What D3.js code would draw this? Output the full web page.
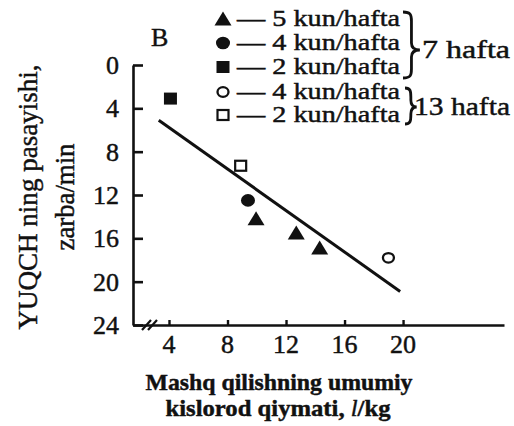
<!DOCTYPE html>
<html>
<head>
<meta charset="utf-8">
<script src="https://cdn.jsdelivr.net/npm/d3@7"></script>
<style>
  html, body { margin: 0; padding: 0; background: #fff; }
  svg { display: block; }
</style>
</head>
<body>
<script>
// Training groups: total oxygen volume of exercise (l/kg) vs. drop in resting heart rate (beats/min)
const xTicks = [4, 8, 12, 16, 20];
const yTicks = [0, 4, 8, 12, 16, 20, 24];

// 7 weeks of training
const fiveDays7 = [[9.95, 14.2], [12.7, 15.5], [14.3, 16.9]];
const fourDays7 = [[9.4, 12.5]];
const twoDays7 = [[4.1, 3.1]];
// 13 weeks of training
const fourDays13 = [[19.0, 17.8]];
const twoDays13 = [[8.9, 9.3]];

// regression line end points
const trendLine = [[3.3, 5.1], [19.8, 20.9]];

const legendLabels = ["— 5 kun/hafta", "— 4 kun/hafta", "— 2 kun/hafta", "— 4 kun/hafta", "— 2 kun/hafta"];
const groupLabels = ["7 hafta", "13 hafta"];

const W = 514, H = 426;
const FONT = "'Liberation Serif', 'Times New Roman', Times, serif";
const ink = "#111";

const svg = d3.select("body").append("svg")
  .attr("width", W).attr("height", H)
  .attr("font-family", FONT);

// heavier type, like the printed figure
function txt(sel) {
  return sel.attr("font-family", FONT).attr("fill", ink)
    .attr("stroke", ink).attr("stroke-width", 0.45);
}

const x = d3.scaleLinear().domain([1.54, 26.9]).range([133, 504]);
const y = d3.scaleLinear().domain([0, 24]).range([65, 325]);

// Y axis (ticks point inward)
const yAxis = svg.append("g").attr("transform", `translate(${x.range()[0]},0)`)
  .call(d3.axisRight(y).tickValues(yTicks).tickSize(10).tickSizeOuter(0).tickFormat(""));
yAxis.select(".domain").attr("stroke", ink).attr("stroke-width", 2.6);
yAxis.selectAll(".tick line").attr("stroke", ink).attr("stroke-width", 2.6);

txt(svg.append("g").selectAll("text").data(yTicks).join("text"))
  .attr("x", 119).attr("y", d => y(d) + 9)
  .attr("text-anchor", "end").attr("font-size", 26)
  .text(d => d);

// X axis (ticks point inward)
const xAxis = svg.append("g").attr("transform", `translate(0,${y.range()[1]})`)
  .call(d3.axisTop(x).tickValues(xTicks).tickSize(5).tickSizeOuter(0).tickFormat(""));
xAxis.select(".domain").attr("stroke", ink).attr("stroke-width", 2.6);
xAxis.selectAll(".tick line").attr("stroke", ink).attr("stroke-width", 2.4);

txt(svg.append("g").selectAll("text").data(xTicks).join("text"))
  .attr("x", d => x(d)).attr("y", 353)
  .attr("text-anchor", "middle").attr("font-size", 26)
  .text(d => d);

// axis break marks
svg.append("g").selectAll("line").data([0, 6]).join("line")
  .attr("x1", d => 142 + d).attr("y1", 330)
  .attr("x2", d => 151 + d).attr("y2", 320)
  .attr("stroke", ink).attr("stroke-width", 2.2);

// regression line
svg.append("line")
  .attr("x1", x(trendLine[0][0])).attr("y1", y(trendLine[0][1]))
  .attr("x2", x(trendLine[1][0])).attr("y2", y(trendLine[1][1]))
  .attr("stroke", ink).attr("stroke-width", 3);

// marker shapes
function triangle(g, cx, cy) {
  g.append("path").attr("d", `M${cx},${cy - 7.5}L${cx + 8.5},${cy + 6.5}L${cx - 8.5},${cy + 6.5}Z`).attr("fill", ink);
}
function dot(g, cx, cy, filled) {
  if (filled) g.append("ellipse").attr("cx", cx).attr("cy", cy).attr("rx", 7).attr("ry", 6.3).attr("fill", ink);
  else g.append("ellipse").attr("cx", cx).attr("cy", cy).attr("rx", 5.5).attr("ry", 4.8)
        .attr("fill", "#fff").attr("stroke", ink).attr("stroke-width", 2.3);
}
function square(g, cx, cy, filled) {
  if (filled) g.append("rect").attr("x", cx - 6.5).attr("y", cy - 6).attr("width", 13).attr("height", 12).attr("fill", ink);
  else g.append("rect").attr("x", cx - 5.5).attr("y", cy - 5).attr("width", 11).attr("height", 10)
        .attr("fill", "#fff").attr("stroke", ink).attr("stroke-width", 2.2);
}

const pts = svg.append("g");
fiveDays7.forEach(d => triangle(pts, x(d[0]), y(d[1])));
fourDays7.forEach(d => dot(pts, x(d[0]), y(d[1]), true));
twoDays7.forEach(d => square(pts, x(d[0]), y(d[1]), true));
fourDays13.forEach(d => dot(pts, x(d[0]), y(d[1]), false));
twoDays13.forEach(d => square(pts, x(d[0]), y(d[1]), false));

// panel letter
txt(svg.append("text")).attr("x", 151).attr("y", 46).attr("font-size", 26).text("B");

// legend
const rowsY = [19, 43, 67, 92, 115];
const lg = svg.append("g");
triangle(lg, 223, rowsY[0]);
dot(lg, 223, rowsY[1], true);
square(lg, 223, rowsY[2], true);
dot(lg, 223, rowsY[3], false);
square(lg, 223, rowsY[4], false);
txt(lg.selectAll("text").data(legendLabels).join("text"))
  .attr("x", 237).attr("y", (d, i) => rowsY[i] + 7)
  .attr("font-size", 23)
  .attr("textLength", 163).attr("lengthAdjust", "spacingAndGlyphs")
  .text(d => d);

// group braces: top, bottom and tip heights
function brace(g, xx, y0, y1, m, w) {
  const s = xx + w * 0.65;
  g.append("path")
    .attr("d", `M${xx},${y0} C${xx + w * 0.6},${y0} ${s},${y0 + 3} ${s},${y0 + 9}` +
               ` L${s},${m - 7} C${s},${m - 2} ${xx + w * 0.85},${m} ${xx + w * 1.3},${m}` +
               ` C${xx + w * 0.85},${m} ${s},${m + 2} ${s},${m + 7}` +
               ` L${s},${y1 - 9} C${s},${y1 - 3} ${xx + w * 0.6},${y1} ${xx},${y1}`)
    .attr("fill", "none").attr("stroke", ink).attr("stroke-width", 2.8);
}
brace(lg, 403, 12, 78, 50, 13);
brace(lg, 405, 88, 124, 107, 9);
txt(lg.append("text")).attr("x", 422).attr("y", 58).attr("font-size", 26)
  .attr("textLength", 88).attr("lengthAdjust", "spacingAndGlyphs").text(groupLabels[0]);
txt(lg.append("text")).attr("x", 414).attr("y", 115).attr("font-size", 26)
  .attr("textLength", 96).attr("lengthAdjust", "spacingAndGlyphs").text(groupLabels[1]);

// axis titles
txt(svg.append("text")).attr("x", 279).attr("y", 390).attr("text-anchor", "middle")
  .attr("font-size", 24).attr("font-weight", "bold")
  .attr("textLength", 267).attr("lengthAdjust", "spacingAndGlyphs")
  .text("Mashq qilishning umumiy");
const t2 = txt(svg.append("text")).attr("x", 278).attr("y", 416).attr("text-anchor", "middle")
  .attr("font-size", 24).attr("font-weight", "bold")
  .attr("textLength", 225).attr("lengthAdjust", "spacingAndGlyphs");
t2.append("tspan").text("kislorod qiymati, ");
t2.append("tspan").attr("font-style", "italic").attr("font-weight", "normal").text("l");
t2.append("tspan").text("/kg");

const yt = svg.append("g").attr("transform", "translate(0,197) rotate(-90)");
txt(yt.append("text")).attr("x", 0).attr("y", 37).attr("text-anchor", "middle")
  .attr("font-size", 27).attr("textLength", 265).attr("lengthAdjust", "spacingAndGlyphs")
  .text("YUQCH ning pasayishi,");
txt(yt.append("text")).attr("x", 0).attr("y", 74).attr("text-anchor", "middle")
  .attr("font-size", 27).attr("textLength", 107).attr("lengthAdjust", "spacingAndGlyphs")
  .text("zarba/min");
</script>
</body>
</html>
